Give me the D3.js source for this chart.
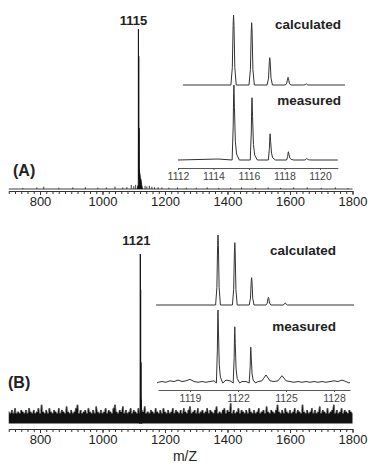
<!DOCTYPE html>
<html>
<head>
<meta charset="utf-8">
<script src="https://cdn.jsdelivr.net/npm/d3@7"></script>
<style>
  body { margin: 0; background: #fff; }
  svg { display: block; font-family: "Liberation Sans", Arial, sans-serif; }
</style>
</head>
<body>
<svg id="chart" width="370" height="464"></svg>
<script>
// ---- data (m/z, relative intensity %) ----
const mzTicks = [800, 1000, 1200, 1400, 1600, 1800];

// panel A main spectrum: isotope cluster around 1115 and small baseline spikes
const clusterA = [[1111, 0], [1114.6, 3], [1115, 100], [1115.4, 6], [1116, 83], [1116.4, 8], [1117, 38],
  [1117.5, 8], [1118, 12], [1119, 10], [1120, 9], [1121, 7], [1123, 6], [1125, 3], [1127, 1], [1129, 0]];
const spikesA = [[745, 0.6], [790, 1], [812, 1.5], [860, 0.8], [905, 1], [945, 1.2], [985, 0.8], [1012, 1],
  [1040, 1.5], [1065, 1], [1078, 1.2], [1092, 2.5], [1100, 1.8], [1106, 2.6], [1136, 2], [1142, 1.6],
  [1150, 2], [1158, 1.4], [1166, 1.2], [1178, 1.2], [1190, 1], [1212, 0.8], [1240, 1], [1268, 0.8],
  [1300, 0.8], [1335, 1], [1372, 0.7], [1410, 0.8], [1445, 1], [1490, 0.7], [1530, 1], [1570, 0.7],
  [1612, 1], [1655, 1], [1700, 0.7], [1745, 1], [1785, 0.6]];

// panel B main spectrum: cluster around 1121 on top of a noisy baseline (noise every 5 m/z from 700)
const clusterB = [[1118, 0], [1120.6, 8], [1121, 100], [1121.4, 8], [1122, 79], [1122.4, 8], [1123, 36],
  [1123.5, 8], [1124, 14], [1125, 6], [1126, 0]];
const noiseStartB = 700, noiseStepB = 5;
const noiseB = [
  7, 6, 8, 6, 9, 6, 7, 6, 8, 7,
  6, 8, 6, 9, 7, 6, 8, 6, 7, 9,
  6, 11, 7, 6, 8, 6, 9, 7, 6, 8,
  7, 6, 9, 6, 8, 7, 6, 10, 7, 6,
  8, 6, 7, 9, 11, 6, 8, 6, 7, 8,
  6, 9, 7, 6, 8, 6, 10, 7, 6, 8,
  6, 7, 9, 6, 8, 7, 6, 9, 11, 7,
  6, 8, 7, 10, 6, 8, 6, 7, 9, 6,
  8, 7, 6, 9, 6, 8, 7, 10, 6, 7,
  6, 8, 7, 6, 9, 7, 6, 8, 6, 9,
  7, 6, 8, 6, 7, 9, 6, 8, 7, 6,
  8, 6, 9, 7, 6, 8, 10, 6, 7, 8,
  6, 9, 6, 7, 8, 6, 7, 9, 6, 8,
  7, 6, 8, 10, 6, 7, 6, 8, 9, 6,
  8, 7, 12, 6, 8, 6, 7, 9, 6, 8,
  7, 6, 8, 6, 9, 7, 6, 8, 6, 7,
  9, 6, 7, 8, 6, 10, 7, 6, 8, 7,
  6, 8, 11, 7, 6, 8, 6, 9, 7, 6,
  8, 6, 7, 9, 6, 8, 7, 6, 11, 7,
  6, 8, 6, 7, 9, 6, 8, 6, 7, 10,
  6, 8, 7, 6, 9, 6, 7, 8, 11, 6,
  8, 6, 7, 9, 6, 8, 7, 6, 8, 7,
  6];

// inset A
const insetTicksA = [1112, 1114, 1116, 1118, 1120];
const calcPeaksA = [1115.13, 1116.15, 1117.17, 1118.2, 1119.23];
const calcHeightsA = [100, 89, 39, 11, 1.5];
const measPeaksA = [1115.15, 1116.17, 1117.19, 1118.22, 1119.25];
const measHeightsA = [100, 83, 35, 11, 2];
const measNoiseA = [[1114.25, 1.3]];

// inset B (measured baseline noise every 0.25 m/z from 1117)
const insetTicksB = [1119, 1122, 1125, 1128];
const calcPeaksB = [1120.75, 1121.8, 1122.85, 1123.9, 1124.95];
const calcHeightsB = [100, 89, 39, 11, 3];
const measPeaksB = [1120.75, 1121.8, 1122.8];
const measHeightsB = [100, 77, 49];
const measNoiseStartB = 1117, measNoiseStepB = 0.25;
const measNoiseB = [1, 2, 1, 3, 2, 4, 2, 3, 5, 2, 1, 2, 1, 2, 3, 2, 6, 4, 3, 2, 4, 2, 2, 2, 3, 2, 3, 11, 3, 2,
  3, 10, 3, 2, 1, 2, 1, 2, 1, 2, 1, 2, 1, 2, 3, 2, 4, 2, 1];

// ---- drawing ----
const svg = d3.select("#chart");
const ink = "#111", grey = "#333";

const x = d3.scaleLinear().domain([700, 1800]).range([8.75, 352.5]);
const yA = d3.scaleLinear().domain([0, 100]).range([189, 29]);
const yB = d3.scaleLinear().domain([0, 100]).range([423.5, 254]);

function mainAxis(yPos) {
  const g = svg.append("g").attr("transform", "translate(0," + yPos + ")");
  g.append("g")
    .call(d3.axisBottom(x).tickValues(d3.range(700, 1801, 20)).tickSize(3).tickSizeOuter(0).tickFormat(""))
    .call(a => a.selectAll("line").attr("stroke", grey))
    .call(a => a.select(".domain").attr("stroke", grey));
  g.append("g")
    .call(d3.axisBottom(x).tickValues(mzTicks).tickSize(4).tickSizeOuter(0).tickFormat(d3.format("d")))
    .call(a => a.select(".domain").remove())
    .call(a => a.selectAll("line").attr("stroke", grey))
    .call(a => a.selectAll("text").attr("y", 15).attr("dy", 0)
      .style("font-size", "13px").attr("fill", "#222").style("font-family", "Liberation Sans, Arial, sans-serif"));
}

// panel A main
svg.append("line").attr("x1", x(700)).attr("x2", x(1800)).attr("y1", yA(0)).attr("y2", yA(0))
  .attr("stroke", ink).attr("stroke-width", 0.8);
svg.selectAll(".spA").data(spikesA).enter().append("line")
  .attr("x1", d => x(d[0])).attr("x2", d => x(d[0]))
  .attr("y1", yA(0)).attr("y2", d => yA(d[1]))
  .attr("stroke", ink).attr("stroke-width", 0.8);
svg.append("path").datum(clusterA)
  .attr("d", d3.line().x(d => x(d[0])).y(d => yA(d[1])))
  .attr("fill", ink).attr("stroke", ink).attr("stroke-width", 0.9);
mainAxis(191);

// panel B main
const noisePts = noiseB.map((v, i) => [noiseStartB + i * noiseStepB, v]);
svg.append("path").datum(noisePts)
  .attr("d", d3.area().curve(d3.curveStep).x(d => x(d[0])).y0(yB(0)).y1(d => yB(d[1])))
  .attr("fill", ink);
svg.append("path").datum(noisePts)
  .attr("d", d3.line().x(d => x(d[0])).y(d => yB(d[1])))
  .attr("fill", "none").attr("stroke", "#555").attr("stroke-width", 0.6);
svg.append("path").datum(clusterB)
  .attr("d", d3.line().x(d => x(d[0])).y(d => yB(d[1])))
  .attr("fill", ink).attr("stroke", ink).attr("stroke-width", 1);
mainAxis(429);

// peak shapes
function calcPeak(c, h) {
  return [[c - 0.15, 0], [c - 0.07, h * 0.25], [c - 0.025, h * 0.85], [c, h],
    [c + 0.025, h * 0.85], [c + 0.07, h * 0.25], [c + 0.15, 0]];
}
function measPeak(c, h) {
  return [[c - 0.1, 0], [c - 0.04, h * 0.45], [c - 0.015, h * 0.9], [c, h], [c + 0.03, h * 0.7],
    [c + 0.08, h * 0.25], [c + 0.15, h * 0.08], [c + 0.3, 0]];
}

function inset(cfg) {
  const xi = d3.scaleLinear().domain(cfg.domain).range(cfg.range);
  const yc = d3.scaleLinear().domain([0, 100]).range([cfg.calcBase, cfg.calcBase - cfg.calcH]);
  const ym = d3.scaleLinear().domain([0, 100]).range([cfg.measBase, cfg.measBase - cfg.measH]);

  let calc = [[cfg.calcDomain[0], 0]];
  cfg.calcPeaks.forEach((c, i) => { calc = calc.concat(calcPeak(c, cfg.calcHeights[i])); });
  calc.push([cfg.calcDomain[1], 0]);

  let meas = [[cfg.measDomain[0], 0]];
  const inPeak = m => cfg.measPeaks.some(c => m > c - 0.14 && m < c + 0.34);
  meas = meas.concat(cfg.measNoise.filter(d => !inPeak(d[0])));
  cfg.measPeaks.forEach((c, i) => { meas = meas.concat(measPeak(c, cfg.measHeights[i])); });
  meas.push([cfg.measDomain[1], 0]);
  meas.sort((a, b) => a[0] - b[0]);

  const line = yy => d3.line().x(d => xi(d[0])).y(d => yy(d[1]));
  svg.append("path").datum(calc).attr("d", line(yc))
    .attr("fill", "none").attr("stroke", grey).attr("stroke-width", 1);
  svg.append("path").datum(meas).attr("d", line(ym))
    .attr("fill", "none").attr("stroke", grey).attr("stroke-width", 1);

  const g = svg.append("g").attr("transform", "translate(0," + cfg.axisY + ")");
  g.call(d3.axisBottom(xi).tickValues(cfg.ticks).tickSize(2).tickSizeOuter(0).tickFormat(d3.format("d")))
    .call(a => a.select(".domain").attr("stroke", "#555"))
    .call(a => a.selectAll("line").attr("stroke", "#555"))
    .call(a => a.selectAll("text").attr("y", 12).attr("dy", 0).attr("fill", "#444")
      .style("font-size", "10.5px").style("font-family", "Liberation Sans, Arial, sans-serif"));

  svg.append("text").attr("x", cfg.labelX).attr("y", cfg.calcLabelY).attr("text-anchor", "end")
    .attr("font-weight", "bold").attr("font-size", 13.5).attr("fill", "#222").text("calculated");
  svg.append("text").attr("x", cfg.labelX).attr("y", cfg.measLabelY).attr("text-anchor", "end")
    .attr("font-weight", "bold").attr("font-size", 13.5).attr("fill", "#222").text("measured");
}

inset({
  domain: [1112, 1121], range: [178, 337.75],
  calcDomain: [1112.28, 1121.41], measDomain: [1112, 1121],
  calcBase: 85, calcH: 70, measBase: 160, measH: 75, axisY: 168,
  calcPeaks: calcPeaksA, calcHeights: calcHeightsA,
  measPeaks: measPeaksA, measHeights: measHeightsA, measNoise: measNoiseA,
  ticks: insetTicksA, labelX: 341, calcLabelY: 29, measLabelY: 105
});

inset({
  domain: [1117, 1129], range: [158, 350],
  calcDomain: [1116.88, 1129.25], measDomain: [1116.94, 1128.94],
  calcBase: 305, calcH: 70, measBase: 383, measH: 73, axisY: 390,
  calcPeaks: calcPeaksB, calcHeights: calcHeightsB,
  measPeaks: measPeaksB, measHeights: measHeightsB,
  measNoise: measNoiseB.map((v, i) => [measNoiseStartB + i * measNoiseStepB, v]),
  ticks: insetTicksB, labelX: 336, calcLabelY: 255, measLabelY: 331
});

// labels
svg.append("text").attr("x", x(1115) - 5).attr("y", 25).attr("text-anchor", "middle")
  .attr("font-weight", "bold").attr("font-size", 13).attr("fill", "#222").text("1115");
svg.append("text").attr("x", x(1121) - 4).attr("y", 245).attr("text-anchor", "middle")
  .attr("font-weight", "bold").attr("font-size", 13).attr("fill", "#222").text("1121");
svg.append("text").attr("x", 13).attr("y", 176)
  .attr("font-weight", "bold").attr("font-size", 16).attr("fill", "#222").text("(A)");
svg.append("text").attr("x", 8).attr("y", 388)
  .attr("font-weight", "bold").attr("font-size", 16).attr("fill", "#222").text("(B)");
svg.append("text").attr("x", 185).attr("y", 461).attr("text-anchor", "middle")
  .attr("font-size", 14).attr("fill", "#222").text("m/Z");
</script>
</body>
</html>
